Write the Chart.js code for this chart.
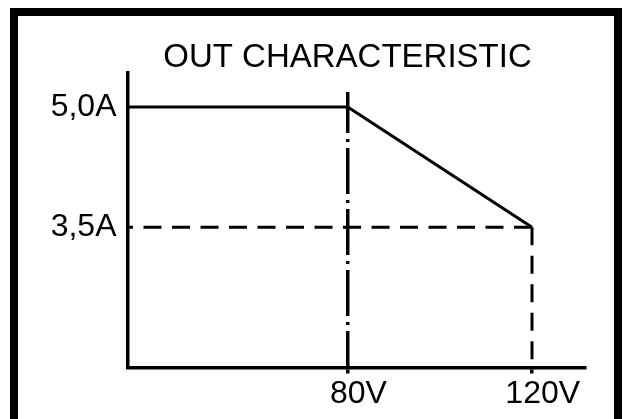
<!DOCTYPE html>
<html>
<head>
<meta charset="utf-8">
<script src="https://cdn.jsdelivr.net/npm/chart.js@4/dist/chart.umd.min.js"></script>
<style>
  html, body { margin: 0; padding: 0; background: #fff; }
  canvas { display: block; }
</style>
</head>
<body>
<canvas id="myChart" width="625" height="419"></canvas>
<script>
// voltage (V) and current (A)
var voltage    = [32.2, 80, 120],
    current    = [5.0, 5.0, 3.5],
    xTicks     = [80, 120],
    yTicks     = [3.5, 5.0],
    yTickNames = ["3,5A", "5,0A"],
    xRange     = [32.2, 131.5],
    yRange     = [1.75, 5.425],
    markTop    = 5.1875,   // top end of the 80V marker line
    knee       = 4.675,    // where the 80V marker turns dash-dot
    chartTitle = "OUT CHARACTERISTIC";

Chart.defaults.font.family = "'Liberation Sans', Arial, sans-serif";
Chart.defaults.color = "#000";

function line(points, opts) {
  var ds = {
    data: points,
    borderColor: "#000",
    borderWidth: 3,
    pointRadius: 0,
    tension: 0,
    showLine: true,
    fill: false
  };
  for (var k in opts) ds[k] = opts[k];
  return ds;
}

var mainLine = voltage.map(function(v, i) { return { x: v, y: current[i] }; });

// outer frame and the title, which sits over the plot area, not the canvas
var frame = {
  id: "frame",
  afterDraw: function(chart) {
    var ctx = chart.ctx,
        area = chart.chartArea;
    ctx.save();
    ctx.strokeStyle = "#000";
    ctx.lineWidth = 8;
    ctx.strokeRect(14, 12, 604, 414);
    ctx.fillStyle = "#000";
    ctx.font = "33px 'Liberation Sans', Arial, sans-serif";
    ctx.textAlign = "center";
    ctx.textBaseline = "alphabetic";
    ctx.fillText(chartTitle, area.left + 220, 67);
    ctx.restore();
  }
};

var myChart = new Chart(document.getElementById("myChart"), {
  type: "scatter",
  data: {
    datasets: [
      line(mainLine, {}),
      // dashed level at 3.5 A, drawn from the corner back to the axis
      line([{ x: voltage[2], y: current[2] }, { x: xRange[0], y: current[2] }],
           { borderDash: [18, 10.5] }),
      line([{ x: voltage[2], y: current[2] }, { x: voltage[2], y: yRange[0] }],
           { borderDash: [18, 10.5] }),
      // 80V marker: solid top then dash-dot
      line([{ x: voltage[1], y: markTop }, { x: voltage[1], y: knee }],
           { borderWidth: 3.5 }),
      line([{ x: voltage[1], y: knee }, { x: voltage[1], y: yRange[0] }],
           { borderWidth: 3.5, borderDash: [46, 6, 3, 6], borderDashOffset: 46 })
    ]
  },
  options: {
    responsive: false,
    animation: false,
    layout: { padding: { left: 40, right: 40, top: 73, bottom: 0 } },
    plugins: {
      legend: { display: false },
      tooltip: { enabled: false },
      title: { display: false }
    },
    scales: {
      x: {
        type: "linear",
        min: xRange[0],
        max: xRange[1],
        afterBuildTicks: function(scale) {
          scale.ticks = xTicks.map(function(v) { return { value: v }; });
        },
        afterFit: function(scale) { scale.height = 51.5; },
        ticks: {
          autoSkip: false,
          maxRotation: 0,
          padding: 1.5,
          labelOffset: 10.7,
          font: { size: 32 },
          callback: function(v) { return v + "V"; }
        },
        grid: {
          display: true,
          drawOnChartArea: false,
          drawTicks: true,
          tickLength: 6,
          lineWidth: 3.5,
          color: "#000"
        },
        border: { display: true, color: "#000", width: 3.5 }
      },
      y: {
        type: "linear",
        min: yRange[0],
        max: yRange[1],
        afterBuildTicks: function(scale) {
          scale.ticks = yTicks.map(function(v) { return { value: v }; });
        },
        afterFit: function(scale) { scale.width = 87.5; },
        ticks: {
          autoSkip: false,
          padding: 3,
          font: { size: 32 },
          callback: function(v) {
            var i = yTicks.indexOf(v);
            return i >= 0 ? yTickNames[i] : "";
          }
        },
        grid: { display: false },
        border: { display: true, color: "#000", width: 3.5 }
      }
    }
  },
  plugins: [frame]
});
</script>
</body>
</html>
